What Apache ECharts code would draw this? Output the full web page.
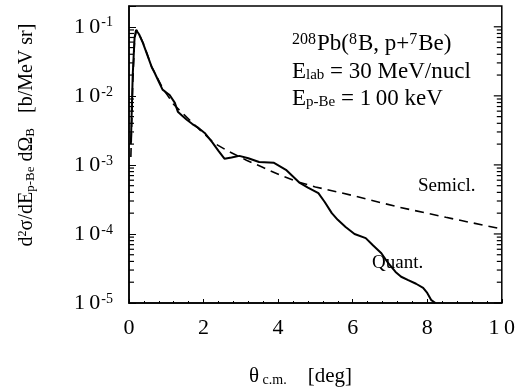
<!DOCTYPE html>
<html>
<head>
<meta charset="utf-8">
<script src="https://cdn.jsdelivr.net/npm/echarts@6/dist/echarts.min.js"></script>
<style>
  html, body { margin: 0; padding: 0; background: #fff; }
  #chart { width: 518px; height: 391px; }
</style>
</head>
<body>
<div id="chart"></div>
<script>
// quantum-mechanical curve (solid)
const quantTheta = [0.05, 0.1, 0.15, 0.19, 0.27, 0.37, 0.5, 0.61, 0.69, 0.8, 0.9, 1.0, 1.09, 1.23, 1.31, 1.42, 1.55, 1.7, 1.84, 2.03, 2.24, 2.4, 2.56, 2.75, 2.96, 3.2, 3.49, 3.89, 4.21, 4.56, 4.8, 5.08, 5.25, 5.44, 5.6, 5.81, 6.05, 6.35, 6.55, 6.77, 6.95, 7.15, 7.3, 7.49, 7.7, 7.89, 8.0, 8.11, 8.22];
const quantVal = [0.002, 0.02, 0.07, 0.09, 0.078, 0.059, 0.038, 0.026, 0.0214, 0.016, 0.0123, 0.0112, 0.0103, 0.0079, 0.0059, 0.0052, 0.0045, 0.0039, 0.0035, 0.0029, 0.0021, 0.0016, 0.00123, 0.00128, 0.00135, 0.00125, 0.0011, 0.00107, 0.00085, 0.00056, 0.00047, 0.00039, 0.00029, 0.0002, 0.00016, 0.000126, 0.0001, 0.000087, 0.000068, 0.0000525, 0.000038, 0.0000282, 0.000024, 0.0000214, 0.000019, 0.0000166, 0.000014, 0.000011, 0.00001];

// semiclassical curve (dashed)
const semiTheta = [0.05, 0.1, 0.15, 0.2, 0.3, 0.4, 0.6, 0.9, 1.2, 1.44, 1.9, 2.3, 2.69, 3.15, 3.57, 4.03, 4.56, 5.0, 6.0, 7.23, 8.5, 10];
const semiVal = [0.0013, 0.015, 0.065, 0.09, 0.072, 0.055, 0.027, 0.013, 0.0075, 0.0056, 0.0032, 0.00204, 0.00155, 0.00117, 0.00093, 0.00072, 0.00056, 0.00048, 0.00036, 0.000245, 0.000174, 0.000118];

// y axis tick positions (decades and log minor ticks)
const yMajorTicks = [1e-5, 1e-4, 1e-3, 1e-2, 1e-1];
const yMinorTicks = [];
for (let e = -5; e <= -1; e++) {
  for (let k = 2; k <= 9; k++) {
    const v = k * Math.pow(10, e);
    if (v < 0.2) yMinorTicks.push(v);
  }
}

const pair = (xs, ys) => xs.map((x, i) => [x, ys[i]]);
const serif = '"Liberation Serif", "DejaVu Serif", serif';

// little tick marks drawn as flat rect symbols sitting on the frame
const tickMarks = (x, vals, len, dir) => ({
  type: 'scatter', silent: true, clip: false, z: 5,
  data: vals.map(v => [x, v]),
  symbol: 'rect', symbolSize: [len, 1.2], symbolOffset: [dir * len / 2, 0],
  itemStyle: { color: '#000', opacity: 1 }
});

const chart = echarts.init(document.getElementById('chart'));

const option = {
  animation: false,
  grid: {
    left: 129, right: 14, top: 6, bottom: 88,
    show: true, borderColor: '#000', borderWidth: 1.5
  },
  xAxis: {
    type: 'value', min: 0, max: 10, interval: 2,
    axisLine: { show: true, lineStyle: { color: '#000', width: 1.5 } },
    axisTick: { show: true, inside: true, length: 4, lineStyle: { color: '#000' } },
    minorTick: { show: true, splitNumber: 5, length: 2, lineStyle: { color: '#000' } },
    splitLine: { show: false },
    axisLabel: {
      color: '#000', fontFamily: serif, fontSize: 22, margin: 14,
      formatter: v => v === 10 ? '1\u20090' : String(v)
    }
  },
  yAxis: {
    type: 'log', logBase: 10, min: 1e-5, max: 0.2,
    axisLine: { show: true, lineStyle: { color: '#000', width: 1.5 } },
    axisTick: { show: true, inside: true, length: 7, lineStyle: { color: '#000' } },
    splitLine: { show: false },
    axisLabel: {
      color: '#000', margin: 16,
      formatter: v => {
        const e = Math.log10(v);
        if (Math.abs(e - Math.round(e)) > 1e-6) return '';
        return '{b|1\u20090}{s|' + Math.round(e) + '}';
      },
      rich: {
        b: { fontFamily: serif, fontSize: 22, color: '#000' },
        s: { fontFamily: serif, fontSize: 14, color: '#000', verticalAlign: 'top', padding: [0, 0, 7, 1] }
      }
    }
  },
  series: [
    {
      name: 'Quant.', type: 'line', data: pair(quantTheta, quantVal),
      showSymbol: false, symbol: 'none',
      lineStyle: { color: '#000', width: 2 }, z: 4
    },
    {
      name: 'Semicl.', type: 'line', data: pair(semiTheta, semiVal),
      showSymbol: false, symbol: 'none',
      lineStyle: { color: '#000', width: 1.6, type: [9, 6] }, z: 3
    },
    tickMarks(0, yMinorTicks, 5, 1),
    tickMarks(10, yMinorTicks, 5, -1),
    tickMarks(10, yMajorTicks, 8, -1)
  ],
  graphic: [
    {
      type: 'text', left: 292, top: 32,
      style: {
        text: '{s|208}{n|Pb(}{s|8}{n|B, p+}{s|7}{n|Be)}',
        rich: {
          n: { fontFamily: serif, fontSize: 23, fill: '#000' },
          s: { fontFamily: serif, fontSize: 16, fill: '#000', verticalAlign: 'top', padding: [0, 1, 7, 0] }
        }
      }
    },
    {
      type: 'text', left: 292, top: 60,
      style: {
        text: '{n|E}{b|lab}{n| = 30 MeV/nucl}',
        rich: {
          n: { fontFamily: serif, fontSize: 23, fill: '#000' },
          b: { fontFamily: serif, fontSize: 15, fill: '#000', verticalAlign: 'bottom', padding: [6, 0, 0, 0] }
        }
      }
    },
    {
      type: 'text', left: 292, top: 87,
      style: {
        text: '{n|E}{b|p-Be}{n| = 1\u200900 keV}',
        rich: {
          n: { fontFamily: serif, fontSize: 23, fill: '#000' },
          b: { fontFamily: serif, fontSize: 15, fill: '#000', verticalAlign: 'bottom', padding: [6, 0, 0, 0] }
        }
      }
    },
    {
      type: 'text', left: 418, top: 177,
      style: { text: 'Semicl.', font: '19px ' + serif, fill: '#000' }
    },
    {
      type: 'text', left: 372, top: 254,
      style: { text: 'Quant.', font: '19px ' + serif, fill: '#000' }
    },
    {
      type: 'text', left: 249, top: 366,
      style: {
        text: '{n|θ}{b| c.m.}{n|    [deg]}',
        rich: {
          n: { fontFamily: serif, fontSize: 21, fill: '#000' },
          b: { fontFamily: serif, fontSize: 14, fill: '#000', verticalAlign: 'bottom', padding: [4, 0, 0, 0] }
        }
      }
    },
    {
      type: 'text', x: 27, y: 135, rotation: Math.PI / 2,
      style: {
        text: '{n|d}{s|2}{n|σ/dE}{b|p-Be}{n| dΩ}{b|B}{n|   [b/MeV sr]}',
        align: 'center', verticalAlign: 'middle',
        rich: {
          n: { fontFamily: serif, fontSize: 20, fill: '#000' },
          s: { fontFamily: serif, fontSize: 12, fill: '#000', verticalAlign: 'top', padding: [0, 0, 7, 0] },
          b: { fontFamily: serif, fontSize: 13, fill: '#000', verticalAlign: 'bottom', padding: [7, 0, 0, 0] }
        }
      }
    }
  ]
};

chart.setOption(option);
</script>
</body>
</html>
